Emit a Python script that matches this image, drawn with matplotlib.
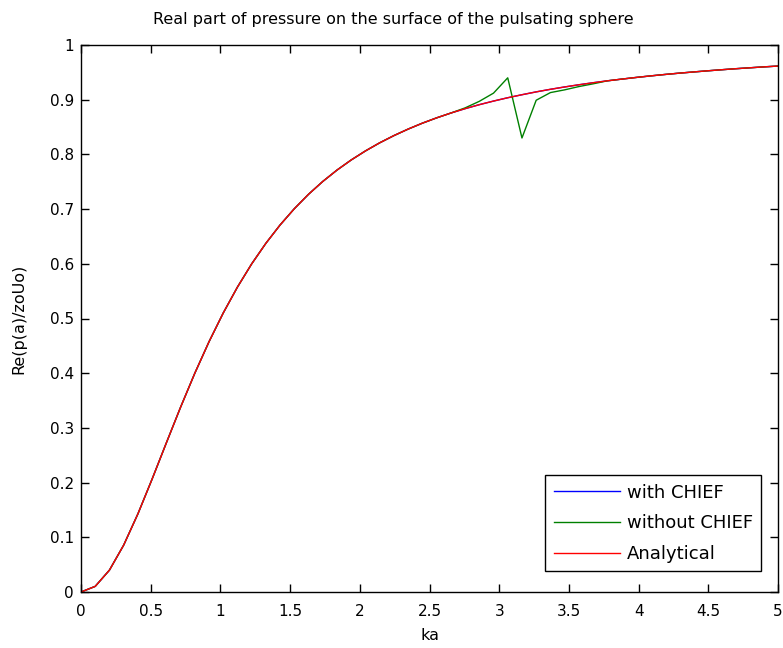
import numpy as np
import matplotlib
matplotlib.use('Agg')
from matplotlib import pyplot as plt

plt.rcParams['font.family'] = ['DejaVu Sans']

# ka grid, 50 samples from 0 to 5
ka = np.linspace(0, 5, 50)

# analytical values
analytical = [0.0, 0.0103, 0.0400, 0.0857, 0.1428, 0.2065, 0.2726, 0.3378, 0.3999, 0.4575,
              0.5101, 0.5575, 0.5999, 0.6376, 0.6711, 0.7008, 0.7272, 0.7506, 0.7714, 0.7899,
              0.8064, 0.8212, 0.8344, 0.8463, 0.8571, 0.8668, 0.8756, 0.8836, 0.8909, 0.8975,
              0.9036, 0.9091, 0.9143, 0.9190, 0.9233, 0.9273, 0.9310, 0.9345, 0.9376, 0.9406,
              0.9434, 0.9460, 0.9484, 0.9506, 0.9527, 0.9547, 0.9566, 0.9583, 0.9600, 0.9615]

# with CHIEF follows the analytical curve
with_chief = list(analytical)

# without CHIEF: spike near the first irregular frequency (ka = pi)
without_chief = list(analytical)
without_chief[27] = 0.8850
without_chief[28] = 0.8970
without_chief[29] = 0.9120
without_chief[30] = 0.9400
without_chief[31] = 0.8300
without_chief[32] = 0.8990
without_chief[33] = 0.9130
without_chief[34] = 0.9180
without_chief[35] = 0.9240
without_chief[36] = 0.9290

fig = plt.figure(figsize=(7.83, 6.48), dpi=100)
ax = fig.add_axes([81/783, 1 - 592/648, (778-81)/783, (592-45)/648])

ax.plot(ka, with_chief, color=(0, 0, 1), lw=1, label='with CHIEF')
ax.plot(ka, without_chief, color=(0, 0.5, 0), lw=1, label='without CHIEF')
ax.plot(ka, analytical, color=(1, 0, 0), lw=1, label='Analytical')

ax.set_xlim(0, 5)
ax.set_ylim(0, 1)
ax.set_xticks(np.arange(0, 5.01, 0.5))
ax.set_xticklabels(['0', '0.5', '1', '1.5', '2', '2.5', '3', '3.5', '4', '4.5', '5'])
ax.set_yticks(np.arange(0, 1.01, 0.1))
ax.set_yticklabels(['0', '0.1', '0.2', '0.3', '0.4', '0.5', '0.6', '0.7', '0.8', '0.9', '1'])
ax.tick_params(direction='in', top=True, right=True, length=6, width=1, labelsize=11)
ax.tick_params(axis='x', pad=9)
ax.tick_params(axis='y', pad=5)
for s in ax.spines.values():
    s.set_linewidth(1)

ax.set_title('Real part of pressure on the surface of the pulsating sphere', fontsize=11.5,
             x=0.448, pad=15)
ax.set_xlabel('ka', fontsize=11.5, labelpad=6)
ax.set_ylabel('Re(p(a)/zoUo)', fontsize=11.5, labelpad=17)

leg = ax.legend(loc='lower right', bbox_to_anchor=(0.9756, 0.0384), borderaxespad=0,
                fontsize=13, handlelength=3.7, handletextpad=0.35,
                fancybox=False, framealpha=1, edgecolor='black',
                borderpad=0.45, labelspacing=0.7)
leg.get_frame().set_linewidth(1)

fig.savefig('out.png', dpi=100)
